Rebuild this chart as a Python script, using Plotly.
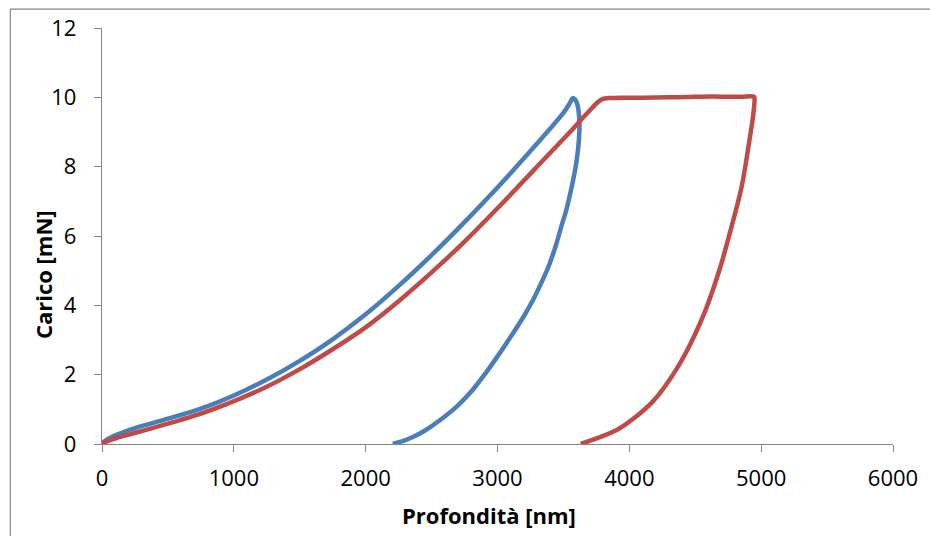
import plotly.graph_objects as go

# Indentation test: depth (nm) vs load (mN), loading + unloading branches
blue_depth = [0, 10, 100, 250, 500, 750, 1000, 1250, 1500, 1750, 2000, 2250, 2500,
              2750, 3000, 3250, 3400, 3500, 3540, 3562, 3572,
              3590, 3606, 3618, 3622, 3618, 3608, 3593, 3573, 3550, 3522, 3490,
              3442, 3390, 3341, 3270, 3202, 3110, 3013, 2911, 2811, 2690, 2560,
              2450, 2358, 2280, 2206]
blue_load = [0, 0.05, 0.25, 0.46, 0.73, 1.02, 1.40, 1.86, 2.40, 3.02, 3.74, 4.56, 5.45,
             6.40, 7.40, 8.45, 9.10, 9.55, 9.78, 9.93, 9.98,
             9.93, 9.79, 9.50, 9.20, 8.80, 8.40, 8.00, 7.60, 7.20, 6.75, 6.35,
             5.72, 5.15, 4.72, 4.16, 3.70, 3.15, 2.60, 2.05, 1.56, 1.08, 0.68,
             0.39, 0.20, 0.08, 0.0]

red_depth = [0, 10, 115, 240, 493, 745, 997, 1249, 1501, 1753, 2005, 2250, 2500,
             2750, 3000, 3250, 3400, 3543, 3650, 3719, 3760, 3795, 3850, 3950,
             4100, 4300, 4450, 4550, 4700, 4850, 4945,
             4950, 4940, 4916, 4853, 4777, 4677, 4550, 4374, 4172, 3921, 3631]
red_load = [0, 0.03, 0.18, 0.31, 0.58, 0.87, 1.23, 1.65, 2.16, 2.74, 3.38, 4.12, 4.95,
            5.84, 6.80, 7.80, 8.40, 8.97, 9.42, 9.70, 9.86, 9.95, 9.98, 9.99,
            9.99, 10.0, 10.01, 10.02, 10.02, 10.02, 10.02,
            9.95, 9.50, 8.88, 7.44, 6.29, 4.94, 3.60, 2.26, 1.20, 0.44, 0.0]

x_ticks = [0, 1000, 2000, 3000, 4000, 5000, 6000]
y_ticks = [0, 2, 4, 6, 8, 10, 12]

FONT = "Open Sans"
AXIS_GRAY = "#868686"

fig = go.Figure()
fig.add_trace(go.Scatter(x=blue_depth, y=blue_load, mode="lines",
                         line=dict(color="#4A7EBB", width=4.5, shape="spline", smoothing=0.8),
                         showlegend=False))
fig.add_trace(go.Scatter(x=red_depth, y=red_load, mode="lines",
                         line=dict(color="#BE4B48", width=4.5, shape="spline", smoothing=0.8),
                         showlegend=False))

axis_common = dict(showgrid=False, zeroline=False, showline=True, linecolor=AXIS_GRAY,
                   linewidth=1.3, ticks="outside", ticklen=7, tickcolor=AXIS_GRAY,
                   tickwidth=1.3, tickfont=dict(family=FONT, size=22, color="#000000"))

fig.update_xaxes(range=[0, 6000], tickvals=x_ticks, ticklabelstandoff=7,
                 ticktext=[str(v) for v in x_ticks], **axis_common)
fig.update_yaxes(range=[0, 12], tickvals=y_ticks, ticklabelstandoff=13,
                 ticktext=[str(v) for v in y_ticks], **axis_common)

fig.update_layout(
    width=930, height=536,
    margin=dict(l=102, r=34, t=27, b=92),
    plot_bgcolor="white", paper_bgcolor="white",
    annotations=[
        dict(text="<b>Profondità [nm]</b>", xref="paper", yref="paper",
             x=0.4896, y=-0.1715, xanchor="center", yanchor="middle", showarrow=False,
             font=dict(family=FONT, size=22, color="#000000")),
        dict(text="<b>Carico [mN]</b>", xref="paper", yref="paper",
             x=-0.0737, y=0.4077, xanchor="center", yanchor="middle", showarrow=False,
             textangle=-90, font=dict(family=FONT, size=22, color="#000000")),
    ],
    shapes=[
        dict(type="rect", xref="paper", yref="paper",
             x0=-0.1159, x1=1.2, y0=-0.3, y1=1.0456,
             line=dict(color=AXIS_GRAY, width=1.2), layer="below"),
    ],
)

fig.write_html("out.html")
